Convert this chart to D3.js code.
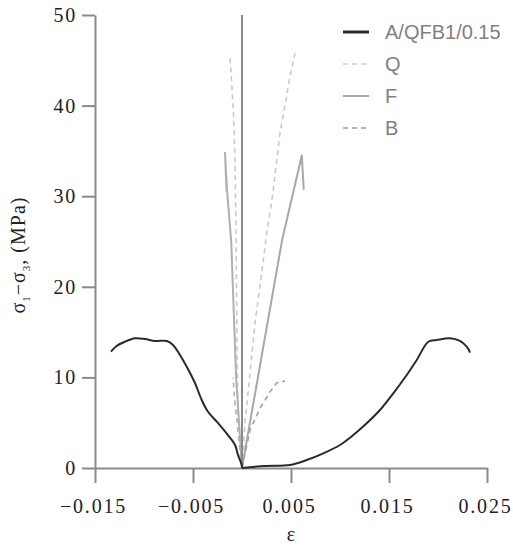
<!DOCTYPE html>
<html>
<head>
<meta charset="utf-8">
<script src="https://cdn.jsdelivr.net/npm/d3@7"></script>
<style>
  body { margin: 0; background: #fff; }
</style>
</head>
<body>
<div id="vis"></div>
<script>
const FRAME_WIDTH = 513;
const FRAME_HEIGHT = 547;
const MARGINS = {top: 15, bottom: 79, left: 95, right: 26};

// tick values
const X_TICKS = [-0.015, -0.005, 0.005, 0.015, 0.025];
const Y_TICKS = [0, 10, 20, 30, 40, 50];

// A/QFB1/0.15 - lateral (left) and axial (right) branches, [strain, stress]
const A_LEFT = [[0, 0], [-0.00003, 0.33], [-0.00041, 1.43], [-0.00071, 2.54], [-0.00143, 3.64],
  [-0.00245, 4.97], [-0.00347, 6.21], [-0.00411, 7.51], [-0.0048, 9.38], [-0.00564, 11.18],
  [-0.00633, 12.47], [-0.00704, 13.58], [-0.00768, 14.02], [-0.00888, 14.02], [-0.0099, 14.24],
  [-0.01092, 14.32], [-0.01194, 13.94], [-0.01279, 13.47], [-0.01337, 12.84]];
const A_RIGHT = [[0, 0], [0.00235, 0.22], [0.0049, 0.33], [0.0066, 0.88], [0.0083, 1.62],
  [0.01, 2.54], [0.01136, 3.64], [0.01272, 4.93], [0.01408, 6.4], [0.01544, 8.24],
  [0.01681, 10.26], [0.01783, 11.92], [0.01901, 13.94], [0.01987, 14.13], [0.02122, 14.32],
  [0.02224, 14.02], [0.02293, 13.39], [0.02327, 12.73]];
const A_AXIS = [[0, 0], [0, 50]];

const Q_LEFT = [[0, 0], [-0.0002, 1.4], [-0.0004, 5], [-0.0005, 12], [-0.0006, 25.5],
  [-0.00071, 34], [-0.00088, 39.5], [-0.00122, 45.3]];
const Q_RIGHT = [[0, 0], [0.00031, 5], [0.00082, 10.5], [0.00133, 16], [0.00201, 21.5],
  [0.00252, 25.9], [0.00316, 30.4], [0.00388, 37], [0.0049, 43.2], [0.00541, 45.8]];

const F_LEFT = [[0, 0], [-0.0003, 5], [-0.0006, 10], [-0.0011, 25], [-0.00153, 30.7],
  [-0.00173, 34.8], [-0.00158, 30.5]];
const F_RIGHT = [[0, 0], [0.0005, 3.1], [0.0041, 25.2], [0.0061, 34.5], [0.0063, 30.7]];

const B_LEFT = [[0, 0], [-0.0004, 4], [-0.0008, 8], [-0.0009, 10]];
const B_RIGHT = [[0, 0], [0.00082, 4.2], [0.00184, 6.6], [0.00286, 8.4], [0.00354, 9.4], [0.0044, 9.6]];

const LEGEND_LABELS = ["A/QFB1/0.15", "Q", "F", "B"];

const SERIES = [
  {data: Q_LEFT, color: "#c9c9c9", width: 1.6, dash: "5,4", smooth: false},
  {data: Q_RIGHT, color: "#c9c9c9", width: 1.6, dash: "5,4", smooth: false},
  {data: B_LEFT, color: "#b5b5b5", width: 1.6, dash: "5,4", smooth: false},
  {data: B_RIGHT, color: "#a0a0a0", width: 1.6, dash: "5,4", smooth: false},
  {data: F_LEFT, color: "#b0b0b0", width: 2, dash: null, smooth: false},
  {data: F_RIGHT, color: "#a8a8a8", width: 2, dash: null, smooth: false},
  {data: A_AXIS, color: "#8a8a8a", width: 2, dash: null, smooth: false},
  {data: A_LEFT, color: "#2a2a2a", width: 2, dash: null, smooth: true},
  {data: A_RIGHT, color: "#2a2a2a", width: 2, dash: null, smooth: true}
];

const LEGEND_STYLES = [
  {color: "#2a2a2a", width: 3, dash: null},
  {color: "#cfcfcf", width: 1.6, dash: "5,4"},
  {color: "#a8a8a8", width: 2, dash: null},
  {color: "#9a9a9a", width: 1.6, dash: "5,4"}
];

const SERIF = "Liberation Serif";

const FRAME = d3.select("#vis")
  .append("svg")
    .attr("width", FRAME_WIDTH)
    .attr("height", FRAME_HEIGHT);

const X_SCALE = d3.scaleLinear()
  .domain([-0.015, 0.025])
  .range([MARGINS.left, FRAME_WIDTH - MARGINS.right]);

const Y_SCALE = d3.scaleLinear()
  .domain([0, 50])
  .range([FRAME_HEIGHT - MARGINS.bottom, MARGINS.top]);

const fmt = (d) => d3.format(".3f")(d).replace("-", "\u2212");

// axes
const xAxis = FRAME.append("g")
  .attr("transform", `translate(0, ${Y_SCALE(0)})`)
  .call(d3.axisBottom(X_SCALE).tickValues(X_TICKS).tickFormat(fmt)
    .tickSize(15).tickPadding(16).tickSizeOuter(0));

const yAxis = FRAME.append("g")
  .attr("transform", `translate(${X_SCALE(-0.015)}, 0)`)
  .call(d3.axisLeft(Y_SCALE).tickValues(Y_TICKS).tickSize(13).tickPadding(7).tickSizeOuter(0));

[xAxis, yAxis].forEach((ax) => {
  ax.attr("font-family", SERIF).attr("font-size", 20);
  ax.select(".domain").attr("stroke", "#8a8a8a").attr("stroke-width", 2);
  ax.selectAll(".tick line").attr("stroke", "#8a8a8a").attr("stroke-width", 2);
  ax.selectAll(".tick text")
    .style("font-family", SERIF)
    .attr("font-size", 20)
    .attr("fill", "#222")
    .attr("letter-spacing", "1.8px");
});
xAxis.selectAll(".tick text").attr("dx", -2);
yAxis.selectAll(".tick text").attr("dx", 2);

// curves
const lineSmooth = d3.line()
  .x((d) => X_SCALE(d[0]))
  .y((d) => Y_SCALE(d[1]))
  .curve(d3.curveCatmullRom.alpha(0.5));

const lineLinear = d3.line()
  .x((d) => X_SCALE(d[0]))
  .y((d) => Y_SCALE(d[1]));

FRAME.selectAll(".series")
  .data(SERIES)
  .enter()
  .append("path")
    .attr("class", "series")
    .attr("d", (d) => (d.smooth ? lineSmooth : lineLinear)(d.data))
    .attr("fill", "none")
    .attr("stroke", (d) => d.color)
    .attr("stroke-width", (d) => d.width)
    .attr("stroke-dasharray", (d) => d.dash)
    .attr("stroke-linejoin", "round");

// legend
const legend = FRAME.append("g").attr("transform", "translate(343, 32)");
LEGEND_LABELS.forEach((label, i) => {
  const row = legend.append("g").attr("transform", `translate(0, ${i * 32})`);
  row.append("line")
    .attr("x1", 0).attr("x2", 26)
    .attr("stroke", LEGEND_STYLES[i].color)
    .attr("stroke-width", LEGEND_STYLES[i].width)
    .attr("stroke-dasharray", LEGEND_STYLES[i].dash);
  row.append("text")
    .attr("x", 42)
    .attr("dy", "0.36em")
    .style("font-family", "Liberation Sans")
    .attr("font-size", 20)
    .attr("fill", "#808080")
    .text(label);
});

// axis titles
FRAME.append("text")
  .attr("x", X_SCALE(0.005))
  .attr("y", 541)
  .attr("text-anchor", "middle")
  .style("font-family", SERIF)
  .attr("font-size", 20)
  .attr("fill", "#222")
  .text("ε");

const yTitle = FRAME.append("text")
  .attr("transform", "translate(25, 255) rotate(-90)")
  .attr("text-anchor", "middle")
  .style("font-family", SERIF)
  .attr("font-size", 20)
  .attr("fill", "#222")
  .attr("letter-spacing", "1px");
yTitle.append("tspan").text("σ");
yTitle.append("tspan").attr("font-size", 11).attr("dy", 5).text("1");
yTitle.append("tspan").attr("dy", -5).text("−σ");
yTitle.append("tspan").attr("font-size", 11).attr("dy", 5).text("3");
yTitle.append("tspan").attr("dy", -5).text(",  (MPa)");
</script>
</body>
</html>
